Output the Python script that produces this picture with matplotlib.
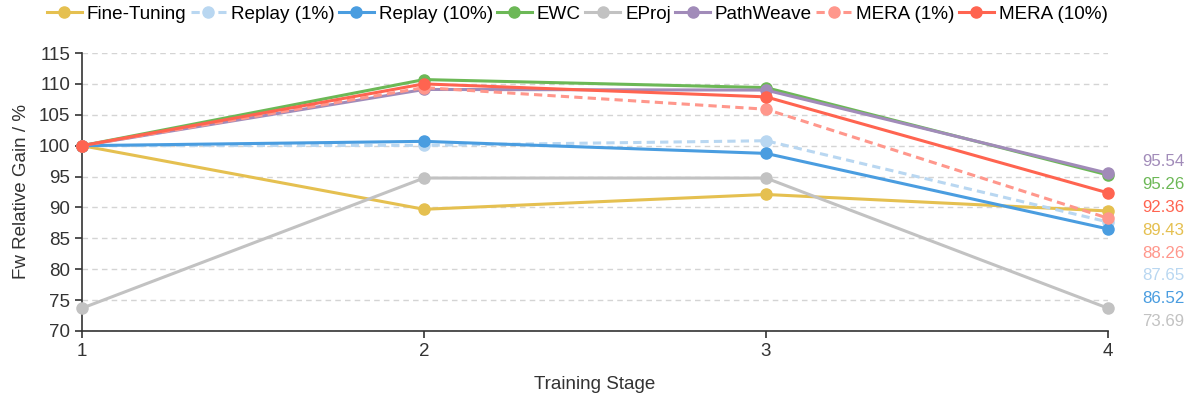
import matplotlib.pyplot as plt

plt.rcParams['font.family'] = ['Liberation Sans', 'DejaVu Sans']

stages = [1, 2, 3, 4]
methods = ['Fine-Tuning', 'Replay (1%)', 'Replay (10%)', 'EWC', 'EProj',
           'PathWeave', 'MERA (1%)', 'MERA (10%)']
fine_tuning = [100, 89.7, 92.1, 89.43]
replay_1 = [100, 100.05, 100.8, 87.65]
replay_10 = [100, 100.7, 98.75, 86.52]
ewc = [100, 110.7, 109.4, 95.26]
eproj = [73.69, 94.76, 94.76, 73.69]
pathweave = [100, 109.1, 109.0, 95.54]
mera_1 = [100, 109.4, 105.9, 88.26]
mera_10 = [100, 110.0, 107.9, 92.36]

series = [fine_tuning, replay_1, replay_10, ewc, eproj, pathweave, mera_1, mera_10]
colors = ['#e5c050', '#b9d7f1', '#4a9de0', '#6cb856', '#c2c2c2', '#a18bb9',
          '#ff978c', '#ff6450']
styles = ['-', (0, (2.7, 1.7)), '-', '-', '-', '-', (0, (2.7, 1.7)), '-']

fig = plt.figure(figsize=(11.92, 4.01), dpi=100)
ax = fig.add_axes([0.0688, 0.1746, 0.8607, 0.6932])

for name, vals, c, ls in zip(methods, series, colors, styles):
    ax.plot(stages, vals, color=c, linestyle=ls, linewidth=2.2, marker='o',
            markersize=8, label=name, clip_on=False, zorder=3)

ax.set_xlim(1, 4)
ax.set_ylim(70, 115)
ax.set_xticks(stages)
ax.set_yticks(range(70, 116, 5))
ax.grid(axis='y', linestyle=(0, (4, 3)), color='#d4d4d4', linewidth=1)
ax.set_axisbelow(True)
for s in ['top', 'right']:
    ax.spines[s].set_visible(False)
for s in ['left', 'bottom']:
    ax.spines[s].set_color('#333333')
    ax.spines[s].set_linewidth(1.2)
ax.tick_params(labelsize=13.5, colors='#333333', length=5, width=1.2)
ax.set_xlabel('Training Stage', fontsize=13.5, color='#333333', labelpad=12)
ax.set_ylabel('Fw Relative Gain / %', fontsize=13.5, color='#333333', labelpad=6)

# final values listed at the right, sorted
finals = sorted(zip([v[-1] for v in series], colors), reverse=True)
for i, (v, c) in enumerate(finals):
    ax.text(1.033, 0.609 - i * 0.0822, f'{v:.2f}', transform=ax.transAxes,
            color=c, fontsize=12.2, va='center', ha='left')

fig.legend(loc='center left', bbox_to_anchor=(47 / 1192, 1 - 14 / 401), ncol=8,
           frameon=False, fontsize=13.6, handlelength=1.85, columnspacing=0.23,
           handletextpad=0.26, borderpad=0, borderaxespad=0)

fig.savefig('out.png', dpi=100)
